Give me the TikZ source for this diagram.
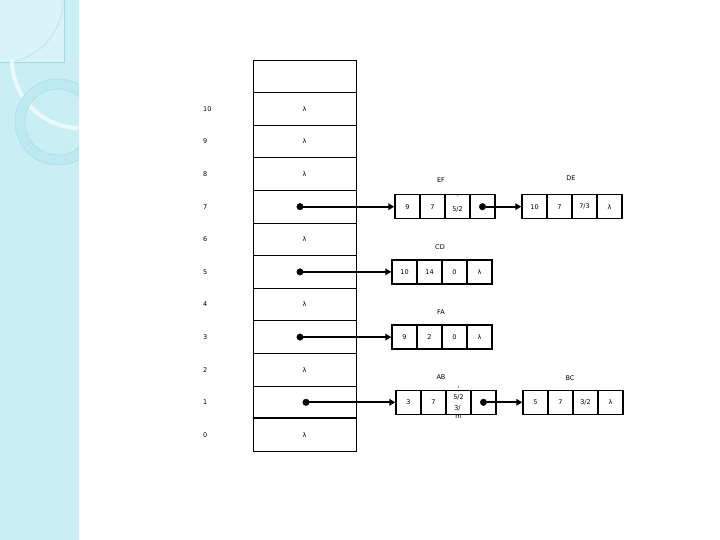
\documentclass[tikz,border=0pt]{standalone}
\usepackage{fontspec}
\setmainfont{DejaVu Sans}
\usetikzlibrary{arrows.meta}

\definecolor{strip}{HTML}{C9EFF5}
\definecolor{stripline}{HTML}{A3D9E2}
\definecolor{ringfill}{HTML}{BDE9F1}
\definecolor{gloss}{HTML}{EAFAFC}

\begin{document}
\begin{tikzpicture}[x=1pt, y=-1pt,
    cell/.style={draw=black, line width=0.9pt, minimum width=103pt, minimum height=32.6pt, inner sep=0pt, font=\fontsize{6.5}{7}\selectfont},
    rec/.style={draw=black, line width=1.4pt, minimum width=25pt, minimum height=24pt, inner sep=0pt, font=\fontsize{6.5}{7}\selectfont},
    lbl/.style={inner sep=0pt, font=\fontsize{6.5}{7}\selectfont},
    idx/.style={lbl, anchor=west},
    snap/.style={circle, fill=black, draw=black, minimum size=6.5pt, inner sep=0pt},
    arrow/.style={-{Triangle[length=6pt,width=6.5pt]}, line width=2pt}
]

\useasboundingbox (0,0) rectangle (720,540);

% left strip
\fill[strip] (0,0) rectangle (79,540);
\begin{scope}
\clip (0,0) rectangle (79,540);
\fill[gloss!45!strip] (0,0) rectangle (64,62);
\draw[stripline, line width=0.4pt] (0,62) -- (64,62) -- (64,0);
\begin{scope}
\clip (0,0) rectangle (64,62);
\draw[stripline, line width=0.4pt] (0,0) circle (63);
\end{scope}
\begin{scope}
\clip (0,60) rectangle (79,540);
\draw[gloss, line width=4pt] (80,60) circle (68);
\end{scope}
\fill[ringfill, even odd rule] (58,122) circle (43) (58,122) circle (33);
\draw[stripline, line width=0.4pt] (58,122) circle (43) (58,122) circle (33);
\end{scope}

% array
\node[cell] (top) at (304.5,76.3) {};
\node[cell] (r10) at (304.5,108.9) {λ};
\node[cell] (r9) at (304.5,141.5) {λ};
\node[cell] (r8) at (304.5,174.1) {λ};
\node[cell] (r7) at (304.5,206.7) {};
\node[cell] (r6) at (304.5,239.3) {λ};
\node[cell] (r5) at (304.5,271.9) {};
\node[cell] (r4) at (304.5,304.5) {λ};
\node[cell] (r3) at (304.5,337.1) {};
\node[cell] (r2) at (304.5,369.7) {λ};
\node[cell] (r1) at (304.5,402.3) {};
\node[cell] (r0) at (304.5,434.9) {λ};
\draw[line width=1.8pt] (r0.north west) -- (r0.north east);

\node[idx] (i10) at (203,108.9) {10};
\node[idx] (i9) at (203,141.5) {9};
\node[idx] (i8) at (203,174.1) {8};
\node[idx] (i7) at (203,206.7) {7};
\node[idx] (i6) at (203,239.3) {6};
\node[idx] (i5) at (203,271.9) {5};
\node[idx] (i4) at (203,304.5) {4};
\node[idx] (i3) at (203,337.1) {3};
\node[idx] (i2) at (203,369.7) {2};
\node[idx] (i1) at (203,402.3) {1};
\node[idx] (i0) at (203,434.9) {0};

% lists
\node[lbl] (tEF) at (441,180) {EF};
\node[rec] (ef1) at (407.5,206.7) {9};
\node[rec] (ef2) at (432.5,206.7) {7};
\node[rec] (ef3) at (457.5,206.7) {};
\node[rec] (ef4) at (482.5,206.7) {};
\node[lbl] (ef3a) at (457.5,196) {.};
\node[lbl] (ef3b) at (457.5,209) {5/2};

\node[lbl] (tDE) at (571,178) {DE};
\node[rec] (de1) at (534.5,206.7) {10};
\node[rec] (de2) at (559.5,206.7) {7};
\node[rec] (de3) at (584.5,206.7) {7/3};
\node[rec] (de4) at (609.5,206.7) {λ};

\node[lbl] (tCD) at (440,247) {CD};
\node[rec] (cd1) at (404.5,271.9) {10};
\node[rec] (cd2) at (429.5,271.9) {14};
\node[rec] (cd3) at (454.5,271.9) {0};
\node[rec] (cd4) at (479.5,271.9) {λ};

\node[lbl] (tFA) at (441,312) {FA};
\node[rec] (fa1) at (404.5,337.1) {9};
\node[rec] (fa2) at (429.5,337.1) {2};
\node[rec] (fa3) at (454.5,337.1) {0};
\node[rec] (fa4) at (479.5,337.1) {λ};

\node[lbl] (tAB) at (441,377) {AB};
\node[rec] (ab1) at (408.5,402.3) {3};
\node[rec] (ab2) at (433.5,402.3) {7};
\node[rec] (ab3) at (458.5,402.3) {};
\node[rec] (ab4) at (483.5,402.3) {};
\node[lbl] (ab3a) at (458.5,389) {'};
\node[lbl] (ab3b) at (458.5,397) {5/2};
\node[lbl] (ab3c) at (457.5,408) {3/};
\node[lbl] (ab3d) at (458.5,417) {m};

\node[lbl] (tBC) at (570,378) {BC};
\node[rec] (bc1) at (535.5,402.3) {5};
\node[rec] (bc2) at (560.5,402.3) {7};
\node[rec] (bc3) at (585.5,402.3) {3/2};
\node[rec] (bc4) at (610.5,402.3) {λ};

% pointers
\node[snap] (d7) at (300,206.7) {};
\node[snap] (d5) at (300,271.9) {};
\node[snap] (d3) at (300,337.1) {};
\node[snap] (d1) at (306,402.3) {};
\node[snap] (def) at (482.5,206.7) {};
\node[snap] (dab) at (483.5,402.3) {};

\draw[arrow] (d7) -- (ef1.west);
\draw[arrow] (d5) -- (cd1.west);
\draw[arrow] (d3) -- (fa1.west);
\draw[arrow] (d1) -- (ab1.west);
\draw[arrow] (def) -- (de1.west);
\draw[arrow] (dab) -- (bc1.west);

\end{tikzpicture}
\end{document}
